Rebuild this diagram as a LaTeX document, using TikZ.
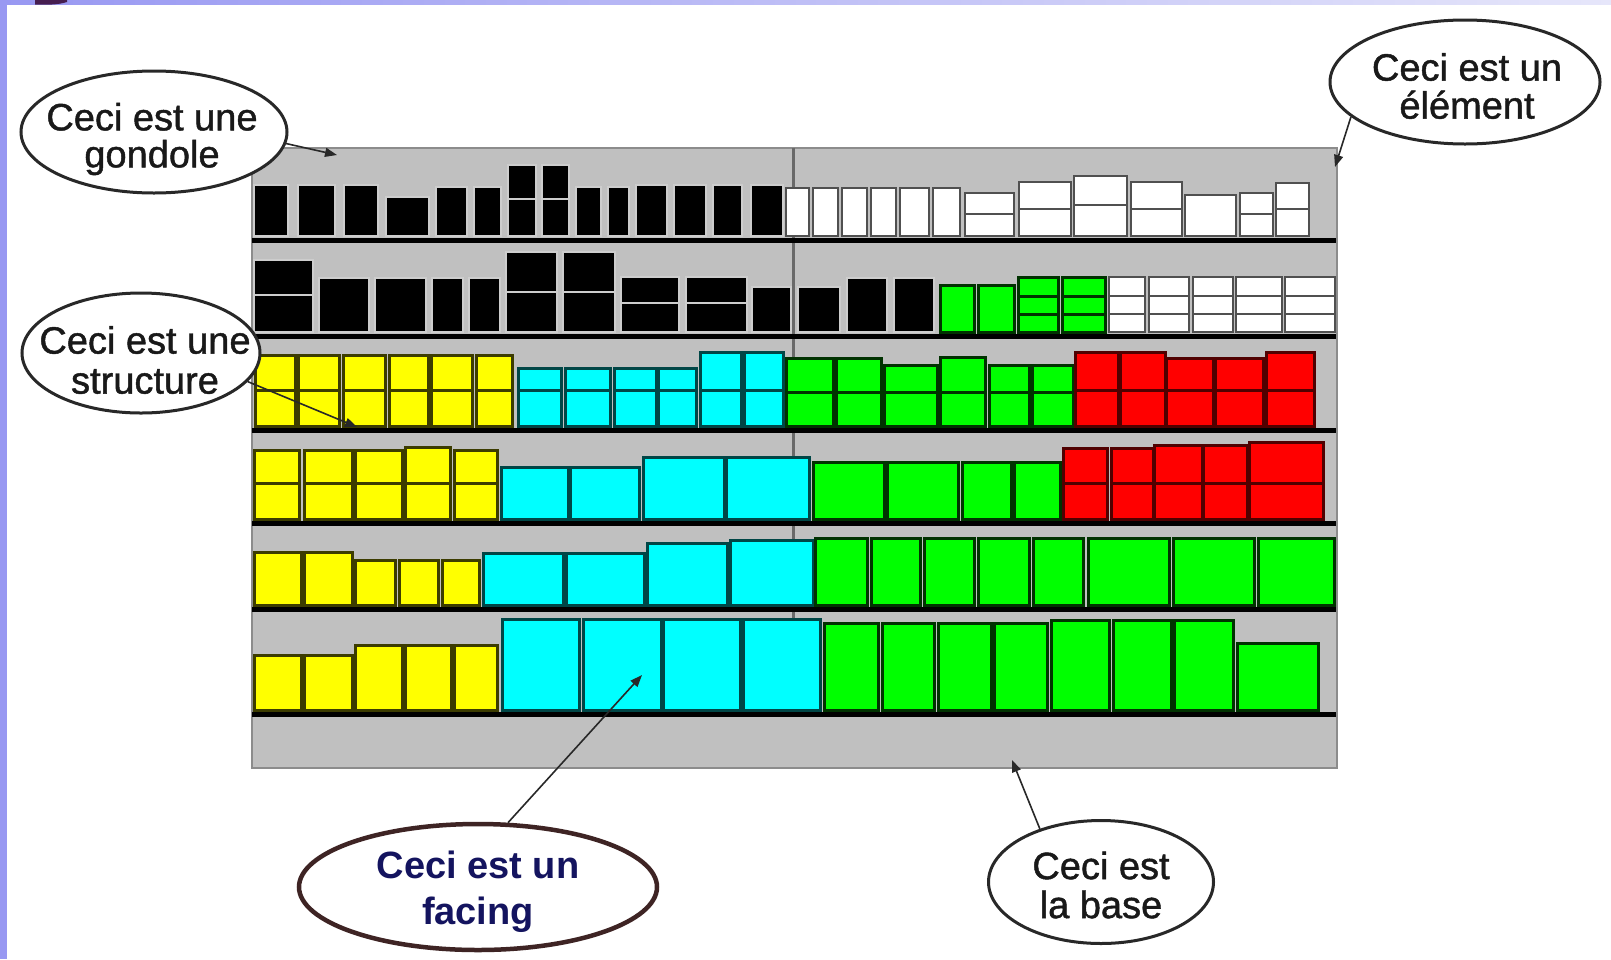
\documentclass[tikz,border=0pt]{standalone}
\usepackage{fontspec}
\setmainfont{Liberation Sans}
\newfontfamily\calloutfont{Liberation Sans}[FakeBold=1.2]
\usetikzlibrary{shapes.geometric,arrows.meta}
\definecolor{frameL}{RGB}{152,152,242}
\definecolor{frameR}{RGB}{230,230,250}
\definecolor{blob}{RGB}{70,30,80}
\definecolor{gbg}{RGB}{192,192,192}
\definecolor{gedge}{RGB}{140,140,140}
\definecolor{post}{RGB}{105,105,105}
\definecolor{boxlight}{RGB}{205,205,205}
\definecolor{whline}{RGB}{80,80,80}
\definecolor{pyellow}{RGB}{255,255,0}
\definecolor{pcyan}{RGB}{0,255,255}
\definecolor{pgreen}{RGB}{0,255,0}
\definecolor{pred}{RGB}{255,0,0}
\definecolor{yline}{RGB}{60,60,0}
\definecolor{cline}{RGB}{0,70,70}
\definecolor{gline}{RGB}{0,50,0}
\definecolor{rline}{RGB}{80,0,0}
\definecolor{ellline}{RGB}{40,40,40}
\definecolor{txt}{RGB}{25,25,25}
\definecolor{facingline}{RGB}{62,36,36}
\definecolor{navy}{RGB}{20,20,95}
\definecolor{arrowc}{RGB}{40,40,40}
\newcommand\prA[4]{\draw[#1] (#2,\rowb) rectangle (#3,#4);}
\newcommand\prB[5]{\draw[#1] (#2,\rowb) rectangle (#3,#5) (#2,#5) rectangle (#3,#4);}
\newcommand\prC[6]{\draw[#1] (#2,\rowb) rectangle (#3,#6) (#2,#6) rectangle (#3,#5) (#2,#5) rectangle (#3,#4);}
\tikzset{
  pbk/.style={fill=black, draw=boxlight, line width=2pt},
  pwh/.style={fill=white, draw=whline, line width=2.5pt},
  pye/.style={fill=pyellow, draw=yline, line width=3pt},
  pcy/.style={fill=pcyan, draw=cline, line width=3pt},
  pgr/.style={fill=pgreen, draw=gline, line width=3pt},
  prd/.style={fill=pred, draw=rline, line width=3pt},
  shelfline/.style={line width=5pt, black},
  callout/.style={ellipse, draw=ellline, line width=3pt, fill=white, inner sep=0pt},
  calltext/.style={align=center, text=txt, inner sep=0pt},
  pointer/.style={draw=arrowc, line width=1.6pt, -{Triangle[length=12pt,width=9pt]}},
}
\begin{document}
\begin{tikzpicture}[x=1pt,y=-1pt]
\useasboundingbox (0,0) rectangle (1611,959);
\fill[white] (0,0) rectangle (1611,959);
% frame
\shade[left color=frameL, right color=frameR] (0,0) rectangle (1611,4.5);
\fill[frameL] (0,0) rectangle (7,959);
\fill[blob] (35,0) -- (67,0) -- (67,2) .. controls (58,5) and (45,5) .. (35,4.5) -- cycle;
% gondola body
\draw[fill=gbg, draw=gedge, line width=1.5pt] (252,148) rectangle (1337,768);
\draw[post, line width=3pt] (793,148) -- (793,712);
% row 1
\def\rowb{236}
\prA{pbk}{254}{288}{185}
\prA{pbk}{298}{335}{185}
\prA{pbk}{344}{378}{185}
\prA{pbk}{386}{429}{197}
\prA{pbk}{436}{467}{187}
\prA{pbk}{474}{501}{187}
\prB{pbk}{508}{536}{165}{199}
\prB{pbk}{542}{569}{165}{199}
\prA{pbk}{576}{601}{187}
\prA{pbk}{608}{629}{187}
\prA{pbk}{636}{667}{185}
\prA{pbk}{674}{706}{185}
\prA{pbk}{713}{742}{185}
\prA{pbk}{751}{783}{185}
\prA{pwh}{786}{809}{188}
\prA{pwh}{813}{838}{188}
\prA{pwh}{842}{867}{188}
\prA{pwh}{871}{896}{188}
\prA{pwh}{900}{929}{188}
\prA{pwh}{933}{960}{188}
\prB{pwh}{965}{1014}{193}{214}
\prB{pwh}{1019}{1071}{182}{209}
\prB{pwh}{1074}{1127}{176}{205}
\prB{pwh}{1131}{1182}{182}{209}
\prA{pwh}{1185}{1236}{195}
\prB{pwh}{1240}{1273}{193}{214}
\prB{pwh}{1276}{1309}{183}{209}
% row 2
\def\rowb{332}
\prB{pbk}{254}{313}{260}{295}
\prA{pbk}{319}{369}{278}
\prA{pbk}{375}{426}{278}
\prA{pbk}{432}{463}{278}
\prA{pbk}{469}{500}{278}
\prB{pbk}{506}{557}{252}{292}
\prB{pbk}{563}{615}{252}{292}
\prB{pbk}{621}{679}{277}{303}
\prB{pbk}{686}{747}{277}{303}
\prA{pbk}{752}{791}{287}
\prA{pbk}{798}{840}{287}
\prA{pbk}{847}{887}{278}
\prA{pbk}{894}{934}{278}
\prA{pgr}{940}{974}{285}
\prA{pgr}{978}{1014}{285}
\prC{pgr}{1018}{1058}{277}{296}{314}
\prC{pgr}{1062}{1105}{277}{296}{314}
\prC{pwh}{1109}{1145}{277}{296}{314}
\prC{pwh}{1149}{1189}{277}{296}{314}
\prC{pwh}{1193}{1233}{277}{296}{314}
\prC{pwh}{1236}{1282}{277}{296}{314}
\prC{pwh}{1285}{1335}{277}{296}{314}
% row 3
\def\rowb{426}
\prB{pye}{255}{295}{355}{390}
\prB{pye}{298}{339}{355}{390}
\prB{pye}{343}{385}{355}{390}
\prB{pye}{389}{428}{355}{390}
\prB{pye}{431}{472}{355}{390}
\prB{pye}{476}{512}{355}{390}
\prB{pcy}{518}{561}{368}{390}
\prB{pcy}{565}{610}{368}{390}
\prB{pcy}{614}{656}{368}{390}
\prB{pcy}{658}{696}{368}{390}
\prB{pcy}{700}{741}{352}{390}
\prB{pcy}{744}{783}{352}{390}
\prB{pgr}{786}{833}{358}{392}
\prB{pgr}{836}{881}{358}{392}
\prB{pgr}{884}{937}{365}{392}
\prB{pgr}{940}{985}{357}{392}
\prB{pgr}{989}{1029}{365}{392}
\prB{pgr}{1032}{1073}{365}{392}
\prB{prd}{1075}{1118}{352}{390}
\prB{prd}{1120}{1165}{352}{390}
\prB{prd}{1166}{1213}{358}{390}
\prB{prd}{1215}{1263}{358}{390}
\prB{prd}{1266}{1314}{352}{390}
% row 4
\def\rowb{519}
\prB{pye}{254}{299}{450}{483}
\prB{pye}{304}{352}{450}{483}
\prB{pye}{355}{402}{450}{483}
\prB{pye}{405}{450}{447}{483}
\prB{pye}{454}{497}{450}{483}
\prA{pcy}{501}{568}{467}
\prA{pcy}{570}{639}{467}
\prA{pcy}{643}{724}{457}
\prA{pcy}{726}{809}{457}
\prA{pgr}{813}{884}{462}
\prA{pgr}{887}{958}{462}
\prA{pgr}{962}{1011}{462}
\prA{pgr}{1014}{1060}{462}
\prB{prd}{1063}{1107}{448}{483}
\prB{prd}{1111}{1153}{448}{483}
\prB{prd}{1154}{1202}{445}{483}
\prB{prd}{1203}{1247}{445}{483}
\prB{prd}{1249}{1323}{442}{483}
% row 5
\def\rowb{605}
\prA{pye}{254}{301}{552}
\prA{pye}{304}{352}{552}
\prA{pye}{355}{395}{560}
\prA{pye}{399}{438}{560}
\prA{pye}{442}{479}{560}
\prA{pcy}{483}{563}{553}
\prA{pcy}{566}{644}{553}
\prA{pcy}{647}{727}{543}
\prA{pcy}{730}{813}{540}
\prA{pgr}{815}{867}{538}
\prA{pgr}{871}{920}{538}
\prA{pgr}{924}{974}{538}
\prA{pgr}{978}{1029}{538}
\prA{pgr}{1033}{1083}{538}
\prA{pgr}{1088}{1169}{538}
\prA{pgr}{1173}{1254}{538}
\prA{pgr}{1258}{1334}{538}
% row 6
\def\rowb{710}
\prA{pye}{254}{301}{655}
\prA{pye}{304}{352}{655}
\prA{pye}{355}{402}{645}
\prA{pye}{405}{451}{645}
\prA{pye}{454}{497}{645}
\prA{pcy}{502}{579}{619}
\prA{pcy}{583}{661}{619}
\prA{pcy}{663}{740}{619}
\prA{pcy}{743}{820}{619}
\prA{pgr}{824}{878}{623}
\prA{pgr}{882}{934}{623}
\prA{pgr}{938}{991}{623}
\prA{pgr}{994}{1047}{623}
\prA{pgr}{1051}{1109}{620}
\prA{pgr}{1113}{1171}{620}
\prA{pgr}{1174}{1233}{620}
\prA{pgr}{1237}{1318}{643}
% shelves
\foreach \y in {240,336,430,523,609,714}
  \draw[shelfline] (252,\y) -- (1336,\y);
% callouts
\node[callout, minimum width=266pt, minimum height=122pt] (gondole) at (154,132) {};
\node[calltext, font=\calloutfont\fontsize{38pt}{37pt}\selectfont] (gondoleT) at (152,139) {Ceci est une\\gondole};
\node[callout, minimum width=270pt, minimum height=124pt] (element) at (1465,82) {};
\node[calltext, font=\calloutfont\fontsize{38pt}{38pt}\selectfont] (elementT) at (1467,86) {Ceci est un\\élément};
\node[callout, minimum width=238pt, minimum height=120pt] (structure) at (141,353) {};
\node[calltext, font=\calloutfont\fontsize{38pt}{40pt}\selectfont] (structureT) at (145,360) {Ceci est une\\structure};
\node[callout, draw=facingline, line width=4.5pt, minimum width=358pt, minimum height=126pt] (facing) at (478,887) {};
\node[calltext, text=navy, font=\bfseries\fontsize{38pt}{46pt}\selectfont] (facingT) at (478,892) {Ceci est un\\facing};
\node[callout, minimum width=225pt, minimum height=123pt] (base) at (1101,882) {};
\node[calltext, font=\calloutfont\fontsize{38pt}{39pt}\selectfont] (baseT) at (1101,885) {Ceci est\\la base};
% pointers
\coordinate (tipG) at (337,155);
\coordinate (tipE) at (1335,167);
\coordinate (tipS) at (357,427);
\coordinate (tipF) at (642,675);
\coordinate (tipB) at (1012,760);
\draw[pointer] (gondole.-5) -- (tipG);
\draw[pointer] (element.197) -- (tipE);
\draw[pointer] (structure.-15) -- (tipS);
\draw[pointer] (facing.65) -- (tipF);
\draw[pointer] (base.139) -- (tipB);
\end{tikzpicture}
\end{document}
